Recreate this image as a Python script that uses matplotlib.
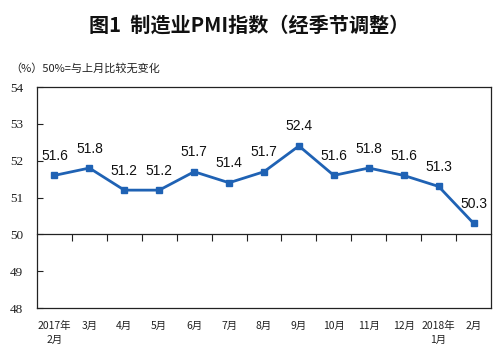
import matplotlib
matplotlib.use("Agg")
import matplotlib.pyplot as plt

plt.rcParams['font.family'] = ['Noto Sans CJK SC', 'DejaVu Sans']

categories = ["2017年\n2月", "3月", "4月", "5月", "6月", "7月", "8月", "9月",
              "10月", "11月", "12月", "2018年\n1月", "2月"]
values = [51.6, 51.8, 51.2, 51.2, 51.7, 51.4, 51.7, 52.4, 51.6, 51.8, 51.6, 51.3, 50.3]
yticks = [48, 49, 50, 51, 52, 53, 54]

fig = plt.figure(figsize=(4.98, 3.55), dpi=100)
ax = fig.add_axes([37/498, 1-308/355, (491-37)/498, (308-87)/355])

x = list(range(len(categories)))
color = "#1F62B4"
ax.plot(x, values, color=color, lw=2, marker="s", ms=4.5, zorder=3)
for xi, v in zip(x, values):
    ax.annotate(f"{v}", (xi, v), xytext=(0, 9), textcoords="offset points",
                ha="center", va="bottom", fontsize=10, family="Liberation Sans",
                color="#111111")

ax.set_xlim(-0.5, len(categories) - 0.5)
ax.set_ylim(48, 54)
ax.set_yticks(yticks)
ax.set_yticklabels([str(t) for t in yticks], family="Liberation Serif", fontsize=9.5)
ax.tick_params(axis="y", direction="in", length=4, width=0.8, pad=10, colors="#222222")
ax.set_xticks(x)
ax.set_xticklabels(categories, fontsize=7.5, linespacing=1.5)
ax.tick_params(axis="x", length=0, pad=9, colors="#222222")
for s in ax.spines.values():
    s.set_linewidth(0.9)
    s.set_color("#222222")

sec = ax.secondary_xaxis((50 - 48) / 6)
sec.set_xticks([i + 0.5 for i in range(len(categories) - 1)])
sec.set_xticklabels([])
sec.tick_params(direction="out", length=5, width=0.8, colors="#222222")
sec.spines["bottom"].set_linewidth(0.9)
sec.spines["bottom"].set_color("#222222")

fig.text(0.5, 1 - 25/355, "图1  制造业PMI指数（经季节调整）", ha="center", va="center",
         fontsize=14.5, fontweight="bold", color="#111111")
fig.text(10/498, 1 - 68/355, "（%）50%=与上月比较无变化", ha="left", va="center",
         fontsize=8, color="#222222")

fig.savefig("out.png", dpi=100)
